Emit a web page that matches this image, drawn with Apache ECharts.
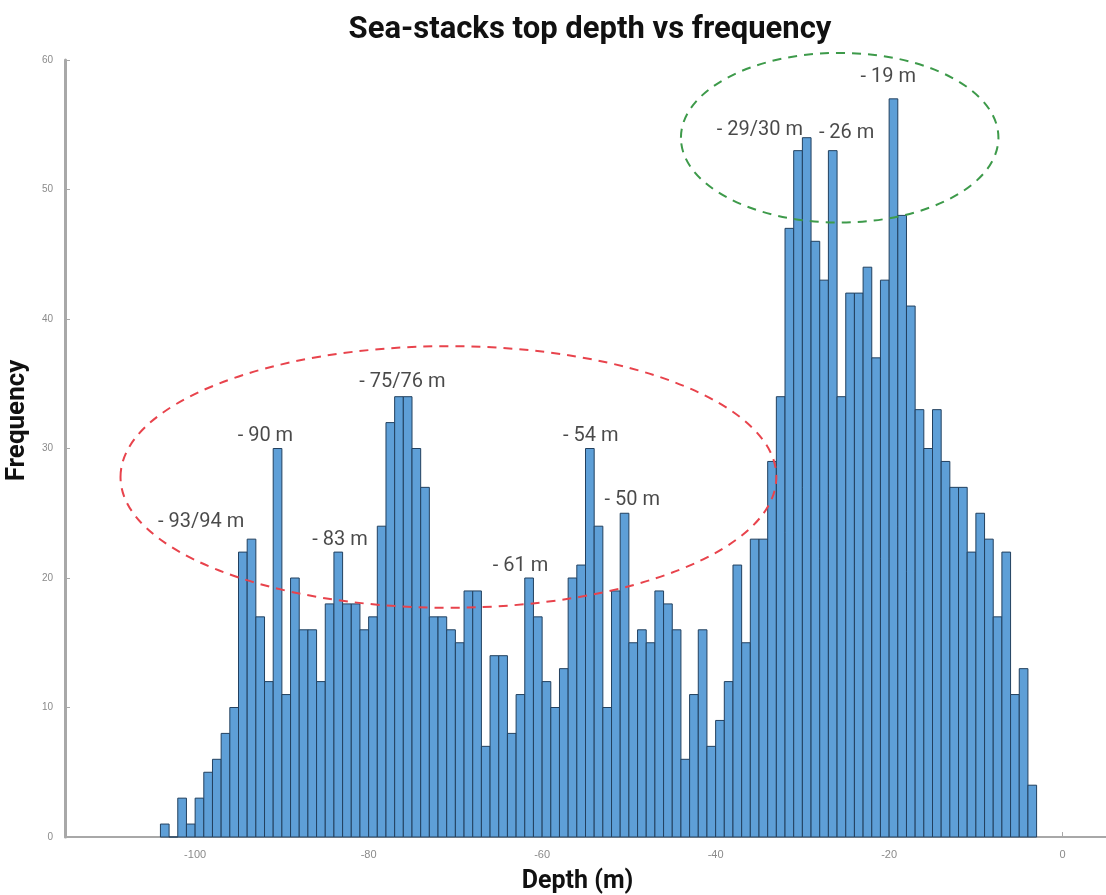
<!DOCTYPE html>
<html>
<head>
<meta charset="utf-8">
<title>Sea-stacks top depth vs frequency</title>
<script src="https://cdn.jsdelivr.net/npm/echarts@6/dist/echarts.min.js"></script>
<style>
  html, body { margin: 0; padding: 0; background: #fff; }
  #chart { width: 1106px; height: 895px; }
</style>
</head>
<body>
<div id="chart"></div>
<script>
// histogram bins: first bin left edge and bin width (m)
const binStart = -104
const binWidth = 1

// counts per bin, from -104 m up to -3 m
const frequency = [
  1, 0, 3, 1, 3, 5, 6, 8, 10, 22,
  23, 17, 12, 30, 11, 20, 16, 16, 12, 18,
  22, 18, 18, 16, 17, 24, 32, 34, 34, 30,
  27, 17, 17, 16, 15, 19, 19, 7, 14, 14,
  8, 11, 20, 17, 12, 10, 13, 20, 21, 30,
  24, 10, 19, 25, 15, 16, 15, 19, 18, 16,
  6, 11, 16, 7, 9, 12, 21, 15, 23, 23,
  29, 34, 47, 53, 54, 46, 43, 53, 34, 42,
  42, 44, 37, 43, 57, 48, 41, 33, 30, 33,
  29, 27, 27, 22, 25, 23, 17, 22, 11, 13,
  4
]

const xTicks = [-100, -80, -60, -40, -20, 0]

// peak labels: [depth, frequency, text]
const peakLabels = [
  [-99.3, 24.3, '- 93/94 m'],
  [-91.9, 31.0, '- 90 m'],
  [-83.3, 22.9, '- 83 m'],
  [-76.1, 35.1, '- 75/76 m'],
  [-62.5, 20.9, '- 61 m'],
  [-54.4, 31.0, '- 54 m'],
  [-49.6, 26.0, '- 50 m'],
  [-34.9, 54.6, '- 29/30 m'],
  [-24.9, 54.4, '- 26 m'],
  [-20.1, 58.7, '- 19 m']
]

// highlighted groups, in data units: [centerDepth, centerFreq, radiusDepth, radiusFreq]
const redGroup = [-70.8, 27.8, 37.8, 10.1]
const greenGroup = [-25.7, 54.0, 18.3, 6.55]

const bins = frequency.map((f, i) => [binStart + i * binWidth, binStart + (i + 1) * binWidth, f])

const chart = echarts.init(document.getElementById('chart'))

chart.setOption({
  animation: false,
  backgroundColor: '#fff',
  grid: { left: 65, right: 0, top: 60, bottom: 58, outerBoundsMode: 'none' },
  xAxis: {
    type: 'value',
    min: -115,
    max: 5,
    name: 'Depth (m)',
    nameLocation: 'middle',
    nameGap: 32,
    nameTextStyle: { fontFamily: 'Roboto', fontWeight: 'bold', fontSize: 25, color: '#111', padding: [0, 16, 0, 0] },
    axisLine: { show: true, onZero: false, lineStyle: { color: '#a8a8a8', width: 2 } },
    axisTick: { show: true, inside: true, length: 5, customValues: xTicks, lineStyle: { color: '#a8a8a8' } },
    axisLabel: { customValues: xTicks, color: '#8a8a8a', fontSize: 11, fontFamily: 'Liberation Sans', margin: 12 },
    splitLine: { show: false }
  },
  yAxis: {
    type: 'value',
    min: 0,
    max: 60,
    interval: 10,
    name: 'Frequency',
    nameLocation: 'middle',
    nameRotate: 90,
    nameGap: 27,
    nameTextStyle: { fontFamily: 'Roboto', fontWeight: 'bold', fontSize: 26, color: '#111', padding: [0, 0, 0, 56] },
    axisLine: { show: true, onZero: false, lineStyle: { color: '#a8a8a8', width: 3 } },
    axisTick: { show: true, inside: true, length: 5, lineStyle: { color: '#a8a8a8' } },
    axisLabel: { color: '#8a8a8a', fontSize: 10, fontFamily: 'Liberation Sans', margin: 12 },
    splitLine: { show: false }
  },
  series: [
    {
      type: 'custom',
      name: 'frequency',
      data: bins,
      encode: { x: [0, 1], y: 2 },
      renderItem: (params, api) => {
        const p0 = api.coord([api.value(0), api.value(2)])
        const p1 = api.coord([api.value(1), 0])
        return {
          type: 'rect',
          shape: { x: p0[0], y: p0[1], width: p1[0] - p0[0], height: p1[1] - p0[1] },
          style: { fill: '#5e9fd7', stroke: '#22405f', lineWidth: 1 }
        }
      }
    },
    {
      type: 'scatter',
      name: 'peaks',
      symbolSize: 1,
      itemStyle: { color: 'rgba(0,0,0,0)' },
      data: peakLabels,
      z: 5,
      label: {
        show: true,
        position: 'inside',
        formatter: (p) => p.data[2],
        color: '#1c1c1c',
        fontSize: 20,
        fontFamily: 'Roboto'
      }
    }
  ]
})

function ellipse(g, color) {
  const c = chart.convertToPixel({ gridIndex: 0 }, [g[0], g[1]])
  const ex = chart.convertToPixel({ gridIndex: 0 }, [g[0] + g[2], g[1] + g[3]])
  return {
    type: 'ellipse',
    silent: true,
    z: 10,
    shape: { cx: c[0], cy: c[1], rx: ex[0] - c[0], ry: c[1] - ex[1] },
    style: { fill: null, stroke: color, lineWidth: 2, lineDash: [9, 7] }
  }
}

chart.setOption({
  graphic: [
    {
      type: 'text',
      x: 590,
      y: 30,
      style: {
        text: 'Sea-stacks top depth vs frequency',
        fill: '#111',
        font: 'bold 31px Roboto',
        textAlign: 'center',
        textVerticalAlign: 'middle'
      }
    },
    ellipse(redGroup, '#e8434c'),
    ellipse(greenGroup, '#3d9a4a')
  ]
})
</script>
</body>
</html>
